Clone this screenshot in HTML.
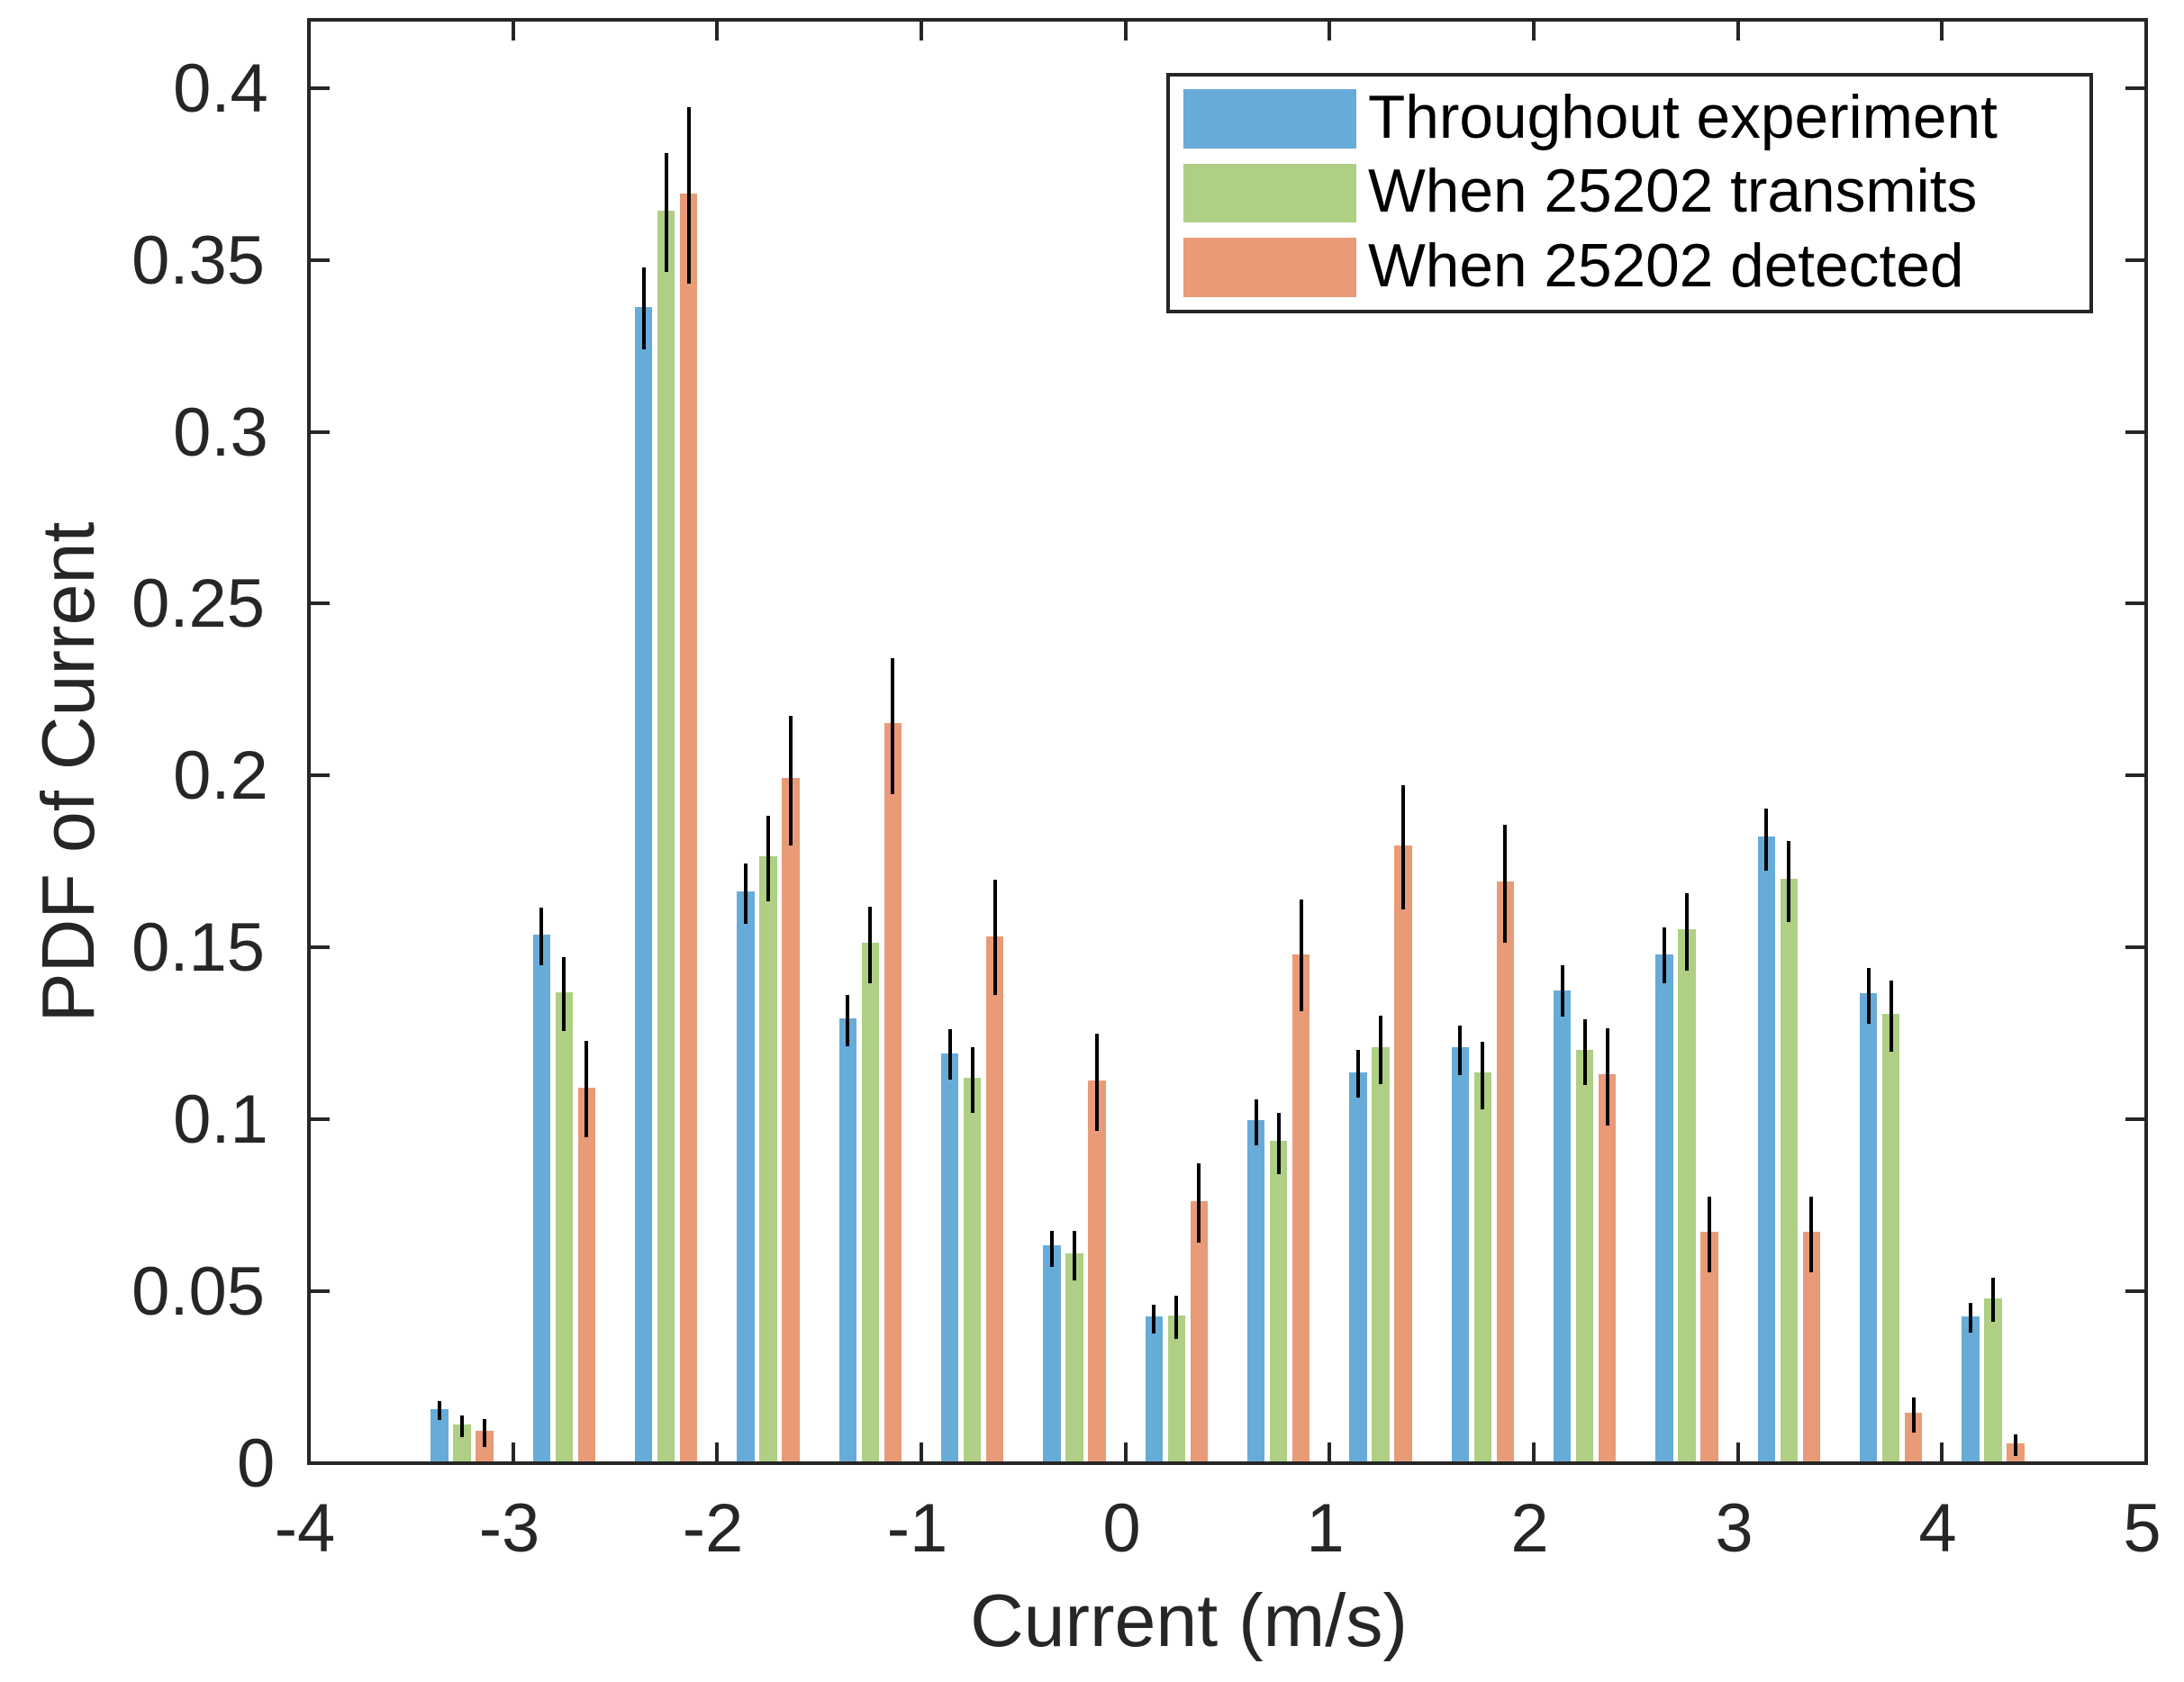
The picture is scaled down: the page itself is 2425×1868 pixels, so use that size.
<!DOCTYPE html>
<html lang="en">
<head>
<meta charset="utf-8">
<title>PDF of Current</title>
<style>
html,body{margin:0;padding:0;background:#fff;}
svg{display:block;}
text{font-family:"Liberation Sans",Arial,Helvetica,sans-serif;}
</style>
</head>
<body>
<svg id="chart" xmlns="http://www.w3.org/2000/svg" width="2425" height="1868" viewBox="0 0 2425 1868">
  <rect x="0" y="0" width="2425" height="1868" fill="#ffffff"/>
  <g id="bars"></g>
  <g id="errs"></g>
  <g id="axes"></g>
  <g id="xlabels" font-size="76" fill="#262626" text-anchor="middle"></g>
  <g id="ylabels" font-size="76" fill="#262626" text-anchor="end"></g>
  <text x="1320" y="1828" font-size="82.5" fill="#262626" text-anchor="middle">Current (m/s)</text>
  <text x="0" y="0" font-size="82.7" fill="#262626" text-anchor="middle" transform="translate(104 857.5) rotate(-90)">PDF of Current</text>
  <g>
    <rect x="1297" y="83" width="1025" height="263" fill="#ffffff" stroke="#262626" stroke-width="4"/>
    <rect x="1314" y="99" width="192" height="66" fill="#67abd9"/>
    <rect x="1314" y="182" width="192" height="65" fill="#aecf84"/>
    <rect x="1314" y="264" width="192" height="66" fill="#e99a77"/>
    <text x="1519" y="153" font-size="67.6" fill="#000000">Throughout experiment</text>
    <text x="1519" y="235" font-size="67.6" fill="#000000">When 25202 transmits</text>
    <text x="1519" y="318" font-size="67.6" fill="#000000">When 25202 detected</text>
  </g>
</svg>
<script>
const binCenters = [-3.25,-2.75,-2.25,-1.75,-1.25,-0.75,-0.25,0.25,0.75,1.25,1.75,2.25,2.75,3.25,3.75,4.25];
const xTickValues = [-4,-3,-2,-1,0,1,2,3,4,5];
const yTickValues = [0,0.05,0.1,0.15,0.2,0.25,0.3,0.35,0.4];
const yTickLabels = ["0","0.05","0.1","0.15","0.2","0.25","0.3","0.35","0.4"];

const throughoutValues = [0.0157,0.1538,0.3364,0.1663,0.1294,0.1193,0.0633,0.0426,0.0998,0.1136,0.1209,0.1375,0.1481,0.1822,0.1367,0.0427];
const throughoutHigh   = [0.0181,0.1615,0.3479,0.1744,0.1363,0.1262,0.0677,0.0462,0.1059,0.1201,0.1274,0.1448,0.1558,0.1903,0.1440,0.0466];
const throughoutLow    = [0.0126,0.1448,0.3240,0.1570,0.1213,0.1116,0.0572,0.0377,0.0925,0.1063,0.1128,0.1298,0.1396,0.1724,0.1278,0.0380];

const transmitsValues = [0.0113,0.1371,0.3644,0.1765,0.1513,0.1120,0.0609,0.0430,0.0937,0.1209,0.1136,0.1201,0.1554,0.1700,0.1306,0.0479];
const transmitsHigh   = [0.0139,0.1473,0.3812,0.1882,0.1619,0.1209,0.0677,0.0487,0.1018,0.1302,0.1225,0.1290,0.1659,0.1809,0.1404,0.0539];
const transmitsLow    = [0.0076,0.1258,0.3466,0.1635,0.1396,0.1018,0.0531,0.0361,0.0840,0.1103,0.1030,0.1099,0.1432,0.1574,0.1197,0.0411];

const detectedValues = [0.0094,0.1091,0.3694,0.1992,0.2154,0.1533,0.1112,0.0763,0.1481,0.1797,0.1692,0.1132,0.0673,0.0673,0.0147,0.0058];
const detectedHigh   = [0.0128,0.1229,0.3945,0.2174,0.2341,0.1696,0.1249,0.0872,0.1639,0.1972,0.1858,0.1266,0.0775,0.0775,0.0191,0.0084];
const detectedLow    = [0.0047,0.0949,0.3432,0.1797,0.1947,0.1363,0.0966,0.0641,0.1314,0.1611,0.1513,0.0982,0.0556,0.0556,0.0089,0.0021];

const NS = 'http://www.w3.org/2000/svg';
const plotLeft = 343, plotRight = 2383, plotBottom = 1625, plotTop = 22;
const xMin = -4, xMax = 5, yMin = 0, yMax = 0.41985;
const barOffset = 25, barWidth = 19.5, tickLen = 23;
const axisColor = '#262626';

function xScale(v){ return plotLeft + (v - xMin) / (xMax - xMin) * (plotRight - plotLeft); }
function yScale(v){ return plotBottom - (v - yMin) / (yMax - yMin) * (plotBottom - plotTop); }

function make(tag, attrs, parent){
  const el = document.createElementNS(NS, tag);
  for (const k in attrs) el.setAttribute(k, attrs[k]);
  parent.appendChild(el);
  return el;
}

const seriesList = [
  {key:'throughout', color:'#67abd9', shift:-1, vals:throughoutValues, hi:throughoutHigh, lo:throughoutLow},
  {key:'transmits',  color:'#aecf84', shift:0,  vals:transmitsValues,  hi:transmitsHigh,  lo:transmitsLow},
  {key:'detected',   color:'#e99a77', shift:1,  vals:detectedValues,   hi:detectedHigh,   lo:detectedLow}
];

const barsG = document.getElementById('bars');
const errsG = document.getElementById('errs');
const axesG = document.getElementById('axes');
const xLabelsG = document.getElementById('xlabels');
const yLabelsG = document.getElementById('ylabels');

seriesList.forEach(function(s){
  binCenters.forEach(function(c, i){
    const cx = xScale(c) + s.shift * barOffset;
    const left = Math.round(cx - barWidth / 2);
    const right = Math.round(cx + barWidth / 2);
    const top = Math.round(yScale(s.vals[i]));
    const bar = make('rect', {x: left, y: top, width: right - left, height: yScale(0) - top, fill: s.color}, barsG);
    
    
    const ex = Math.round(cx);
    const err = make('line', {x1: ex, x2: ex, y1: Math.round(yScale(s.hi[i])), y2: Math.round(yScale(s.lo[i])), stroke: '#000000', 'stroke-width': 4}, errsG);
    
    
  });
});

xTickValues.forEach(function(v){
  const x = Math.round(xScale(v));
  if (v !== xMin && v !== xMax) {
    const bottomTick = make('line', {x1: x, x2: x, y1: plotBottom, y2: plotBottom - tickLen, stroke: axisColor, 'stroke-width': 4}, axesG);
    
    
    const topTick = make('line', {x1: x, x2: x, y1: plotTop, y2: plotTop + tickLen, stroke: axisColor, 'stroke-width': 4}, axesG);
    
    
  }
  const label = make('text', {x: x - 4.5, y: 1723}, xLabelsG);
  
  
  label.textContent = String(v);
});

yTickValues.forEach(function(v, i){
  const y = Math.round(yScale(v));
  if (v !== yMin) {
    const leftTick = make('line', {x1: plotLeft, x2: plotLeft + tickLen, y1: y, y2: y, stroke: axisColor, 'stroke-width': 4}, axesG);
    
    
    const rightTick = make('line', {x1: plotRight, x2: plotRight - tickLen, y1: y, y2: y, stroke: axisColor, 'stroke-width': 4}, axesG);
    
    
  }
  const label = make('text', {x: 309 - 3.75 * yTickLabels[i].length, y: y + 26}, yLabelsG);
  
  
  label.textContent = yTickLabels[i];
});

const frame = make('rect', {x: plotLeft, y: plotTop, width: plotRight - plotLeft, height: plotBottom - plotTop, fill: 'none', stroke: axisColor, 'stroke-width': 4}, axesG);


</script>
</body>
</html>
